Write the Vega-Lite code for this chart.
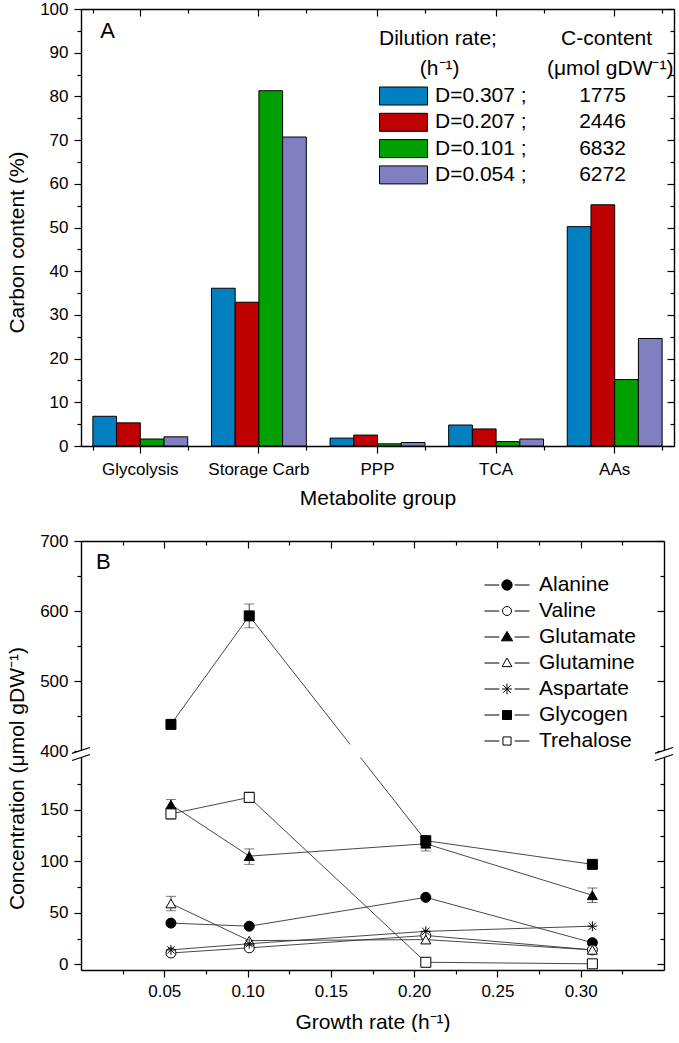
{
  "$schema": "https://vega.github.io/schema/vega-lite/v6.json",
  "padding": {"left": 6, "top": 0, "right": 0, "bottom": 0},
  "spacing": 24,
  "config": {
    "font": "Liberation Sans",
    "view": {"stroke": null},
    "axis": {"grid": false, "domainColor": "black", "domainWidth": 1.4, "tickColor": "black", "tickWidth": 1.2, "labelColor": "black", "labelFontSize": 17, "labelFont": "Liberation Sans", "titleColor": "black", "titleFontSize": 21, "titleFontWeight": "normal", "titleFont": "Liberation Sans"},
    "legend": {"padding": 0, "labelFontSize": 21, "labelColor": "black", "labelFont": "Liberation Sans", "labelLimit": 500, "titleLimit": 500, "titleFontSize": 21, "titleFontWeight": "normal", "titleColor": "black", "titleFont": "Liberation Sans"}
  },
  "datasets": {
    "carbon": [
      {"group": "Glycolysis", "D": "D=0.307 ;", "pct": 6.8},
      {"group": "Glycolysis", "D": "D=0.207 ;", "pct": 5.3},
      {"group": "Glycolysis", "D": "D=0.101 ;", "pct": 1.6},
      {"group": "Glycolysis", "D": "D=0.054 ;", "pct": 2.1},
      {"group": "Storage Carb", "D": "D=0.307 ;", "pct": 36.1},
      {"group": "Storage Carb", "D": "D=0.207 ;", "pct": 32.9},
      {"group": "Storage Carb", "D": "D=0.101 ;", "pct": 81.3},
      {"group": "Storage Carb", "D": "D=0.054 ;", "pct": 70.7},
      {"group": "PPP", "D": "D=0.307 ;", "pct": 1.8},
      {"group": "PPP", "D": "D=0.207 ;", "pct": 2.5},
      {"group": "PPP", "D": "D=0.101 ;", "pct": 0.5},
      {"group": "PPP", "D": "D=0.054 ;", "pct": 0.8},
      {"group": "TCA", "D": "D=0.307 ;", "pct": 4.8},
      {"group": "TCA", "D": "D=0.207 ;", "pct": 3.9},
      {"group": "TCA", "D": "D=0.101 ;", "pct": 1.0},
      {"group": "TCA", "D": "D=0.054 ;", "pct": 1.6},
      {"group": "AAs", "D": "D=0.307 ;", "pct": 50.2},
      {"group": "AAs", "D": "D=0.207 ;", "pct": 55.2},
      {"group": "AAs", "D": "D=0.101 ;", "pct": 15.2},
      {"group": "AAs", "D": "D=0.054 ;", "pct": 24.6}
    ],
    "conc": [
      {"series": "Alanine", "x": 0.054, "v": 40},
      {"series": "Alanine", "x": 0.101, "v": 37},
      {"series": "Alanine", "x": 0.207, "v": 65},
      {"series": "Alanine", "x": 0.307, "v": 21},
      {"series": "Valine", "x": 0.054, "v": 11},
      {"series": "Valine", "x": 0.101, "v": 16},
      {"series": "Valine", "x": 0.207, "v": 28},
      {"series": "Valine", "x": 0.307, "v": 14},
      {"series": "Glutamate", "x": 0.054, "v": 155},
      {"series": "Glutamate", "x": 0.101, "v": 105},
      {"series": "Glutamate", "x": 0.207, "v": 117},
      {"series": "Glutamate", "x": 0.307, "v": 67},
      {"series": "Glutamine", "x": 0.054, "v": 59},
      {"series": "Glutamine", "x": 0.101, "v": 23},
      {"series": "Glutamine", "x": 0.207, "v": 24},
      {"series": "Glutamine", "x": 0.307, "v": 14},
      {"series": "Aspartate", "x": 0.054, "v": 14},
      {"series": "Aspartate", "x": 0.101, "v": 20},
      {"series": "Aspartate", "x": 0.207, "v": 32},
      {"series": "Aspartate", "x": 0.307, "v": 37},
      {"series": "Glycogen", "x": 0.054, "v": 438},
      {"series": "Glycogen", "x": 0.101, "v": 593},
      {"series": "Glycogen", "x": 0.207, "v": 120},
      {"series": "Glycogen", "x": 0.307, "v": 97},
      {"series": "Trehalose", "x": 0.054, "v": 146},
      {"series": "Trehalose", "x": 0.101, "v": 162},
      {"series": "Trehalose", "x": 0.207, "v": 2},
      {"series": "Trehalose", "x": 0.307, "v": 0.5}
    ],
    "errs": [
      {"series": "Glycogen", "x": 0.101, "lo": 576, "hi": 610},
      {"series": "Glycogen", "x": 0.054, "lo": 432, "hi": 444},
      {"series": "Trehalose", "x": 0.101, "lo": 157, "hi": 167},
      {"series": "Trehalose", "x": 0.054, "lo": 141, "hi": 151},
      {"series": "Glutamate", "x": 0.054, "lo": 149, "hi": 160},
      {"series": "Glutamate", "x": 0.101, "lo": 97, "hi": 112},
      {"series": "Glutamate", "x": 0.207, "lo": 110, "hi": 124},
      {"series": "Glutamate", "x": 0.307, "lo": 60, "hi": 74},
      {"series": "Glutamine", "x": 0.054, "lo": 52, "hi": 66},
      {"series": "Trehalose", "x": 0.207, "lo": -1, "hi": 5},
      {"series": "Trehalose", "x": 0.307, "lo": -3, "hi": 4}
    ]
  },
  "vconcat": [
    {
      "width": 593,
      "height": 437,
      "layer": [
        {
          "data": {"name": "carbon"},
          "mark": {"type": "bar", "stroke": "black", "strokeWidth": 1},
          "encoding": {
            "x": {"field": "group", "type": "nominal", "sort": ["Glycolysis", "Storage Carb", "PPP", "TCA", "AAs"], "scale": {"paddingInner": 0.2, "paddingOuter": 0.1},
                  "axis": {"orient": "bottom", "title": "Metabolite group", "labelAngle": 0, "tickSize": 7, "labelPadding": 8, "titlePadding": 10, "tickBand": "center"}},
            "xOffset": {"field": "D", "type": "nominal", "sort": ["D=0.307 ;", "D=0.207 ;", "D=0.101 ;", "D=0.054 ;"], "scale": {"paddingInner": 0, "paddingOuter": 0}},
            "y": {"field": "pct", "type": "quantitative", "scale": {"domain": [0, 100], "nice": false},
                  "axis": {"orient": "left", "title": "Carbon content (%)", "titleY": 233, "titlePadding": 12, "labelPadding": 6,
                           "values": [0,5,10,15,20,25,30,35,40,45,50,55,60,65,70,75,80,85,90,95,100],
                           "labelExpr": "datum.value % 10 === 0 ? datum.label : ''",
                           "tickSize": {"condition": {"test": "datum.value % 10 === 0", "value": 7}, "value": 4}}},
            "fill": {"field": "D", "type": "nominal",
                     "scale": {"domain": ["D=0.307 ;", "D=0.207 ;", "D=0.101 ;", "D=0.054 ;"], "range": ["#0080c0", "#bf0000", "#00a000", "#8080c0"]},
                     "legend": {"orient": "none", "legendX": 298, "legendY": 19,
                                "title": ["Dilution rate;\u00a0\u00a0\u00a0\u00a0\u00a0\u00a0\u00a0\u00a0\u00a0\u00a0\u00a0C-content", "\u200b\u00a0\u00a0\u00a0\u00a0\u00a0\u00a0\u00a0(h\u207b\u00b9)\u00a0\u00a0\u00a0\u00a0\u00a0\u00a0\u00a0\u00a0\u00a0\u00a0\u00a0\u00a0\u00a0\u00a0\u00a0(\u03bcmol gDW\u207b\u00b9)"],
                                "titleAnchor": "start", "titleAlign": "left", "titleLineHeight": 30, "titlePadding": 4,
                                "symbolType": "M-1,-0.375H1V0.375H-1Z", "symbolSize": 2304, "symbolStrokeColor": "black", "symbolStrokeWidth": 1,
                                "clipHeight": 26, "rowPadding": 0.3, "labelOffset": 7,
                                "labelExpr": "datum.label + '\u00a0\u00a0\u00a0\u00a0\u00a0\u00a0\u00a0\u00a0\u00a0' + (datum.label == 'D=0.307 ;' ? '1775' : datum.label == 'D=0.207 ;' ? '2446' : datum.label == 'D=0.101 ;' ? '6832' : '6272')"}}
          }
        },
        {
          "data": {"name": "carbon"},
          "transform": [{"filter": "false"}],
          "mark": {"type": "bar"},
          "encoding": {
            "x": {"field": "group", "type": "nominal", "sort": ["Glycolysis", "Storage Carb", "PPP", "TCA", "AAs"],
                  "axis": {"orient": "bottom", "tickBand": "extent", "tickSize": 4, "labels": false, "domain": false, "title": null}},
            "y": {"field": "pct", "type": "quantitative",
                  "axis": {"orient": "right", "title": null, "labels": false,
                           "values": [0,5,10,15,20,25,30,35,40,45,50,55,60,65,70,75,80,85,90,95,100],
                           "tickSize": {"condition": {"test": "datum.value % 10 === 0", "value": -7}, "value": -4}}}
          }
        },
        {
          "data": {"name": "carbon"},
          "transform": [{"filter": "false"}],
          "mark": {"type": "bar"},
          "encoding": {
            "x": {"field": "group", "type": "nominal", "sort": ["Glycolysis", "Storage Carb", "PPP", "TCA", "AAs"],
                  "axis": {"orient": "top", "tickBand": "center", "tickSize": -7, "labels": false, "title": null}},
            "y": {"field": "pct", "type": "quantitative", "axis": null}
          }
        },
        {
          "data": {"name": "carbon"},
          "transform": [{"filter": "false"}],
          "mark": {"type": "bar"},
          "encoding": {
            "x": {"field": "group", "type": "nominal", "sort": ["Glycolysis", "Storage Carb", "PPP", "TCA", "AAs"],
                  "axis": {"orient": "top", "tickBand": "extent", "tickSize": -4, "labels": false, "domain": false, "title": null}},
            "y": {"field": "pct", "type": "quantitative", "axis": null}
          }
        },
        {
          "data": {"values": [{}]},
          "mark": {"type": "text", "text": "A", "align": "left", "baseline": "middle", "fontSize": 22, "fontWeight": "normal", "dx": -40, "fill": "black"},
          "encoding": {
            "x": {"datum": "Glycolysis", "type": "nominal", "axis": null},
            "y": {"datum": 95, "type": "quantitative", "axis": null}
          }
        }
      ],
      "resolve": {"axis": {"x": "independent", "y": "independent"}}
    },
    {
      "width": 583,
      "height": 429,
      "layer": [
        {
          "data": {"name": "conc"},
          "mark": {"type": "line", "stroke": "#333333", "strokeWidth": 0.9},
          "encoding": {
            "x": {"field": "x", "type": "quantitative", "scale": {"domain": [0, 0.35], "nice": false, "zero": false},
                  "axis": {"orient": "bottom", "title": "Growth rate (h\u207b\u00b9)", "titlePadding": 12, "labelPadding": 6,
                           "values": [0.025,0.05,0.075,0.1,0.125,0.15,0.175,0.2,0.225,0.25,0.275,0.3,0.325],
                           "labelExpr": "round(datum.value*1000) % 50 === 0 ? format(datum.value, '.2f') : ''",
                           "tickSize": {"condition": {"test": "round(datum.value*1000) % 50 === 0", "value": 7}, "value": 4}}},
            "y": {"field": "v", "type": "quantitative", "scale": {"domain": [-5.5, 207, 400, 700], "range": [429, 210, 210, 0], "nice": false, "zero": false},
                  "axis": {"orient": "left", "title": "Concentration (\u03bcmol gDW\u207b\u00b9)", "titleY": 237, "titlePadding": 12, "labelPadding": 6,
                           "values": [0,25,50,75,100,125,150,175,400,450,500,550,600,650,700],
                           "labelExpr": "(datum.value % 50 === 0 && (datum.value < 200 || datum.value % 100 === 0)) ? datum.label : ''",
                           "tickSize": {"condition": {"test": "datum.value % 50 === 0 && (datum.value < 200 || datum.value % 100 === 0)", "value": 7}, "value": 4}}},
            "detail": {"field": "series", "type": "nominal"}
          }
        },
        {
          "data": {"name": "conc"},
          "transform": [{"filter": "false"}],
          "mark": {"type": "line"},
          "encoding": {
            "x": {"field": "x", "type": "quantitative",
                  "axis": {"orient": "top", "title": null, "labels": false,
                           "values": [0.025,0.05,0.075,0.1,0.125,0.15,0.175,0.2,0.225,0.25,0.275,0.3,0.325],
                           "tickSize": {"condition": {"test": "round(datum.value*1000) % 50 === 0", "value": -7}, "value": -4}}},
            "y": {"field": "v", "type": "quantitative",
                  "axis": {"orient": "right", "title": null, "labels": false,
                           "values": [0,25,50,75,100,125,150,175,400,450,500,550,600,650,700],
                           "tickSize": {"condition": {"test": "datum.value % 50 === 0 && (datum.value < 200 || datum.value % 100 === 0)", "value": -7}, "value": -4}}}
          }
        },
        {
          "data": {"values": [{}]},
          "mark": {"type": "rect", "fill": "white"},
          "encoding": {
            "x": {"datum": 0.15, "type": "quantitative", "axis": null},
            "x2": {"datum": 0.18},
            "y": {"datum": 409.3, "type": "quantitative", "axis": null},
            "y2": {"datum": 200.7}
          }
        },
        {
          "data": {"name": "errs"},
          "mark": {"type": "errorbar", "ticks": {"size": 10}, "color": "#333333", "thickness": 0.9},
          "encoding": {
            "x": {"field": "x", "type": "quantitative", "axis": null},
            "y": {"field": "lo", "type": "quantitative", "axis": null},
            "y2": {"field": "hi"}
          }
        },
        {
          "data": {"name": "conc"},
          "mark": {"type": "point", "filled": true, "stroke": "black", "strokeWidth": 1, "size": 100, "opacity": 1},
          "encoding": {
            "x": {"field": "x", "type": "quantitative", "axis": null},
            "y": {"field": "v", "type": "quantitative", "axis": null},
            "shape": {"field": "series", "type": "nominal", "legend": null,
                      "scale": {"domain": ["Alanine", "Valine", "Glutamate", "Glutamine", "Aspartate", "Glycogen", "Trehalose"],
                                "range": ["circle", "circle", "triangle-up", "triangle-up", "M-1,0H1M0,-1V1M-0.72,-0.72L0.72,0.72M-0.72,0.72L0.72,-0.72", "square", "square"]}},
            "fill": {"field": "series", "type": "nominal", "legend": null,
                     "scale": {"domain": ["Alanine", "Valine", "Glutamate", "Glutamine", "Aspartate", "Glycogen", "Trehalose"],
                               "range": ["black", "white", "black", "white", "black", "black", "white"]}}
          }
        },
        {
          "data": {"name": "conc"},
          "transform": [{"filter": "false"}],
          "mark": {"type": "point", "filled": true, "strokeWidth": 1, "size": 2025, "opacity": 1},
          "encoding": {
            "x": {"field": "x", "type": "quantitative", "axis": null},
            "y": {"field": "v", "type": "quantitative", "axis": null},
            "shape": {"field": "series", "type": "nominal",
                      "scale": {"domain": ["Alanine", "Valine", "Glutamate", "Glutamine", "Aspartate", "Glycogen", "Trehalose"],
                                "range": [
                                  "M-1,0H-0.34M0.34,0H1M0.23,0A0.23,0.23 0 1,1 -0.23,0A0.23,0.23 0 1,1 0.23,0Z",
                                  "M-1,0H-0.34M0.34,0H1M0.2,0A0.2,0.2 0 1,1 -0.2,0A0.2,0.2 0 1,1 0.2,0Z",
                                  "M-1,0H-0.34M0.34,0H1M0,-0.25L0.25,0.17L-0.25,0.17Z",
                                  "M-1,0H-0.34M0.34,0H1M0,-0.22L0.22,0.16L-0.22,0.16Z",
                                  "M-1,0H-0.34M0.34,0H1M-0.22,0H0.22M0,-0.24V0.24M-0.17,-0.17L0.17,0.17M-0.17,0.17L0.17,-0.17",
                                  "M-1,0H-0.34M0.34,0H1M-0.2,-0.2H0.2V0.2H-0.2Z",
                                  "M-1,0H-0.34M0.34,0H1M-0.18,-0.18H0.18V0.18H-0.18Z"
                                ]},
                      "legend": {"title": null, "orient": "none", "legendX": 403, "legendY": 31, "symbolSize": 2025, "clipHeight": 26, "rowPadding": 0, "labelOffset": 9, "symbolStrokeWidth": 1}},
            "fill": {"field": "series", "type": "nominal",
                     "scale": {"domain": ["Alanine", "Valine", "Glutamate", "Glutamine", "Aspartate", "Glycogen", "Trehalose"],
                               "range": ["black", "white", "black", "white", "black", "black", "white"]},
                     "legend": {"title": null, "orient": "none", "legendX": 403, "legendY": 31, "symbolSize": 2025, "clipHeight": 26, "rowPadding": 0, "labelOffset": 9, "symbolStrokeWidth": 1}},
            "stroke": {"field": "series", "type": "nominal",
                       "scale": {"domain": ["Alanine", "Valine", "Glutamate", "Glutamine", "Aspartate", "Glycogen", "Trehalose"],
                                 "range": ["black", "black", "black", "black", "black", "black", "black"]},
                       "legend": {"title": null, "orient": "none", "legendX": 403, "legendY": 31, "symbolSize": 2025, "clipHeight": 26, "rowPadding": 0, "labelOffset": 9, "symbolStrokeWidth": 1}}
          }
        },
        {
          "data": {"values": [{}]},
          "mark": {"type": "point", "shape": "M-1,0.27L1,-0.39L1,0.39L-1,1.05Z", "size": 324, "filled": true, "fill": "white", "strokeWidth": 0, "opacity": 1},
          "encoding": {"x": {"datum": 0, "type": "quantitative", "axis": null}, "y": {"datum": 400, "type": "quantitative", "axis": null}}
        },
        {
          "data": {"values": [{}]},
          "mark": {"type": "point", "shape": "M-1,0.27L1,-0.39M-1,1.05L1,0.39", "size": 324, "filled": false, "stroke": "black", "strokeWidth": 1.2, "opacity": 1},
          "encoding": {"x": {"datum": 0, "type": "quantitative", "axis": null}, "y": {"datum": 400, "type": "quantitative", "axis": null}}
        },
        {
          "data": {"values": [{}]},
          "mark": {"type": "point", "shape": "M-1,0.27L1,-0.39L1,0.39L-1,1.05Z", "size": 324, "filled": true, "fill": "white", "strokeWidth": 0, "opacity": 1},
          "encoding": {"x": {"datum": 0.35, "type": "quantitative", "axis": null}, "y": {"datum": 400, "type": "quantitative", "axis": null}}
        },
        {
          "data": {"values": [{}]},
          "mark": {"type": "point", "shape": "M-1,0.27L1,-0.39M-1,1.05L1,0.39", "size": 324, "filled": false, "stroke": "black", "strokeWidth": 1.2, "opacity": 1},
          "encoding": {"x": {"datum": 0.35, "type": "quantitative", "axis": null}, "y": {"datum": 400, "type": "quantitative", "axis": null}}
        },
        {
          "data": {"values": [{}]},
          "mark": {"type": "text", "text": "B", "align": "left", "baseline": "middle", "fontSize": 22, "fill": "black"},
          "encoding": {"x": {"datum": 0.009, "type": "quantitative", "axis": null}, "y": {"datum": 670, "type": "quantitative", "axis": null}}
        }
      ],
      "resolve": {"scale": {"shape": "independent", "fill": "independent", "stroke": "independent"}, "axis": {"x": "independent", "y": "independent"}}
    }
  ]
}
